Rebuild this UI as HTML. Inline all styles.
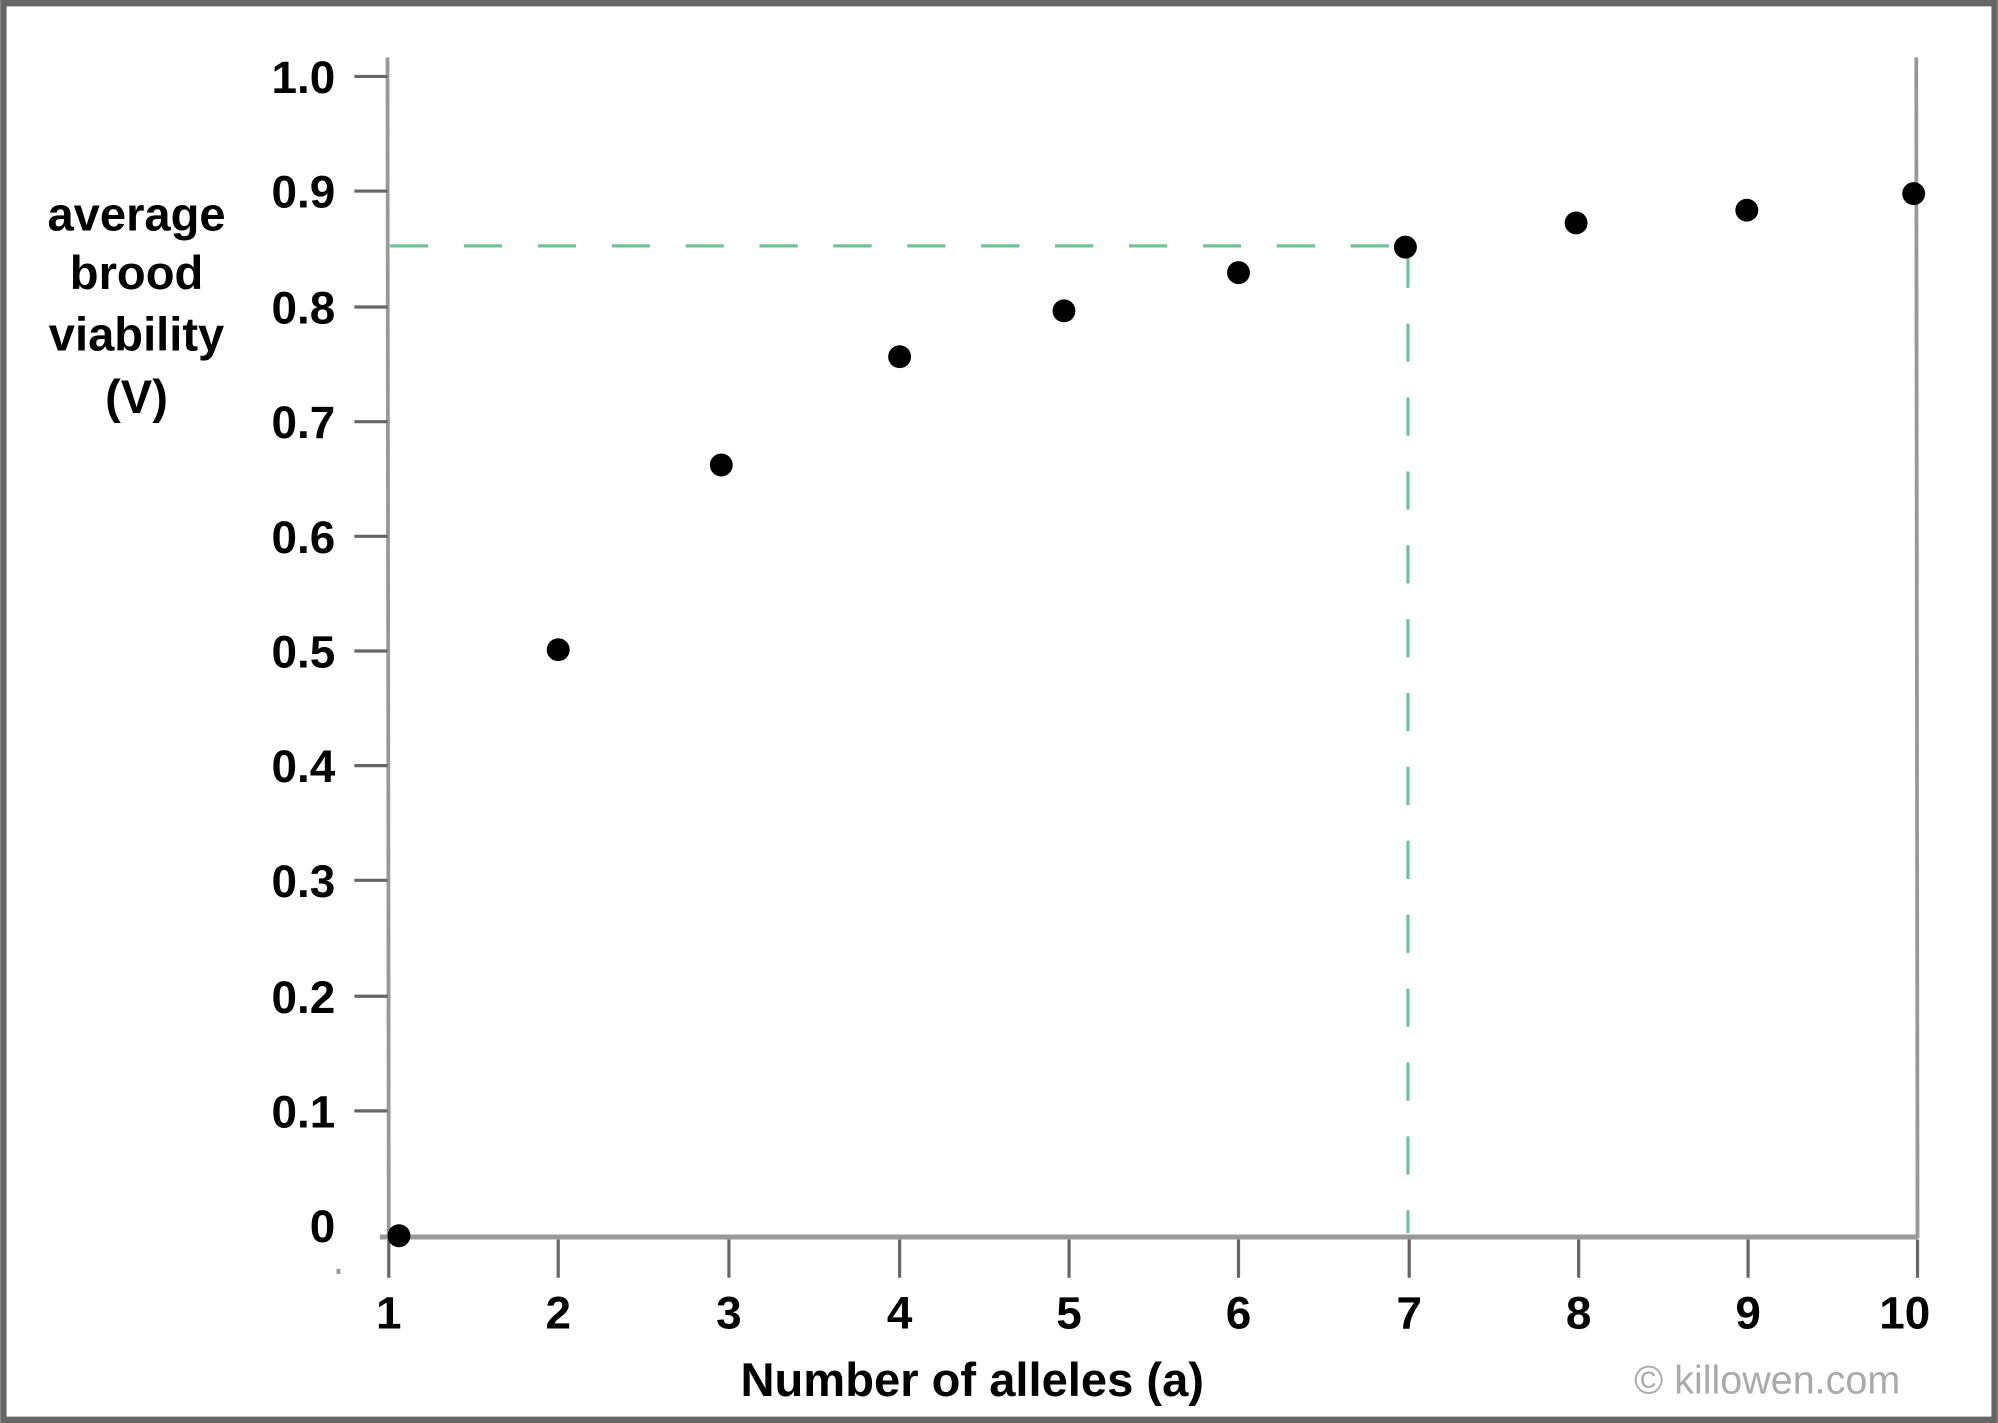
<!DOCTYPE html>
<html><head><meta charset="utf-8"><style>html,body{margin:0;padding:0;background:#fff}svg{display:block}</style></head>
<body>
<svg width="1998" height="1423" viewBox="0 0 1568 1117" xmlns="http://www.w3.org/2000/svg" font-family="Liberation Sans, sans-serif">
<rect x="0" y="0" width="1568" height="1117" fill="#fff"/>
<rect x="2.5" y="2.5" width="1563" height="1112" fill="none" stroke="#666" stroke-width="5"/>
<line x1="304" y1="45" x2="305" y2="972" stroke="#999" stroke-width="3"/>
<line x1="1504" y1="45" x2="1505" y2="972" stroke="#999" stroke-width="3"/>
<line x1="298" y1="971" x2="1505" y2="971" stroke="#999" stroke-width="4"/>
<rect x="264" y="996" width="3" height="4" fill="#999"/>
<g stroke="#666" stroke-width="2.5">
<line x1="278" y1="60" x2="304" y2="60"/><line x1="278" y1="150" x2="304" y2="150"/>
<line x1="278" y1="241" x2="304" y2="241"/><line x1="278" y1="331" x2="304" y2="331"/>
<line x1="278" y1="421" x2="304" y2="421"/><line x1="278" y1="511" x2="304" y2="511"/>
<line x1="278" y1="601" x2="304" y2="601"/><line x1="278" y1="691" x2="304" y2="691"/>
<line x1="278" y1="782" x2="304" y2="782"/><line x1="278" y1="872" x2="304" y2="872"/>
<line x1="305" y1="973" x2="305" y2="1003"/><line x1="438" y1="973" x2="438" y2="1003"/>
<line x1="572" y1="973" x2="572" y2="1003"/><line x1="706" y1="973" x2="706" y2="1003"/>
<line x1="839" y1="973" x2="839" y2="1003"/><line x1="972" y1="973" x2="972" y2="1003"/>
<line x1="1106" y1="973" x2="1106" y2="1003"/><line x1="1239" y1="973" x2="1239" y2="1003"/>
<line x1="1372" y1="973" x2="1372" y2="1003"/><line x1="1505" y1="973" x2="1505" y2="1003"/>
</g>
<g font-size="36" font-weight="bold" fill="#000" text-anchor="end">
<text x="263" y="73">1.0</text><text x="263" y="163">0.9</text><text x="263" y="254">0.8</text>
<text x="263" y="344">0.7</text><text x="263" y="434">0.6</text><text x="263" y="524">0.5</text>
<text x="263" y="614">0.4</text><text x="263" y="704">0.3</text><text x="263" y="795">0.2</text>
<text x="263" y="885">0.1</text><text x="263" y="975">0</text>
</g>
<g font-size="36" font-weight="bold" fill="#000" text-anchor="middle">
<text x="305" y="1043">1</text><text x="438" y="1043">2</text><text x="572" y="1043">3</text>
<text x="706" y="1043">4</text><text x="839" y="1043">5</text><text x="972" y="1043">6</text>
<text x="1106" y="1043">7</text><text x="1239" y="1043">8</text><text x="1372" y="1043">9</text>
<text x="1495" y="1043">10</text>
</g>
<g font-size="37" font-weight="bold" fill="#000" text-anchor="middle">
<text x="107" y="181">average</text><text x="107" y="227">brood</text>
<text x="107" y="275">viability</text><text x="107" y="324">(V)</text>
<text x="763" y="1096">Number of alleles (a)</text>
</g>
<text x="1387" y="1094" font-size="31" fill="#aaa" text-anchor="middle">© killowen.com</text>
<g stroke="#6cc497" stroke-width="2.5" fill="none" stroke-dasharray="30,28">
<line x1="306" y1="193" x2="1104" y2="193"/>
<line x1="1105" y1="196" x2="1105" y2="968"/>
</g>
<g fill="#000">
<circle cx="313" cy="970" r="9"/><circle cx="438" cy="510" r="9"/><circle cx="566" cy="365" r="9"/>
<circle cx="706" cy="280" r="9"/><circle cx="835" cy="244" r="9"/><circle cx="972" cy="214" r="9"/>
<circle cx="1103" cy="194" r="9"/><circle cx="1237" cy="175" r="9"/><circle cx="1371" cy="165" r="9"/>
<circle cx="1502" cy="152" r="9"/>
</g>
</svg>
</body></html>
